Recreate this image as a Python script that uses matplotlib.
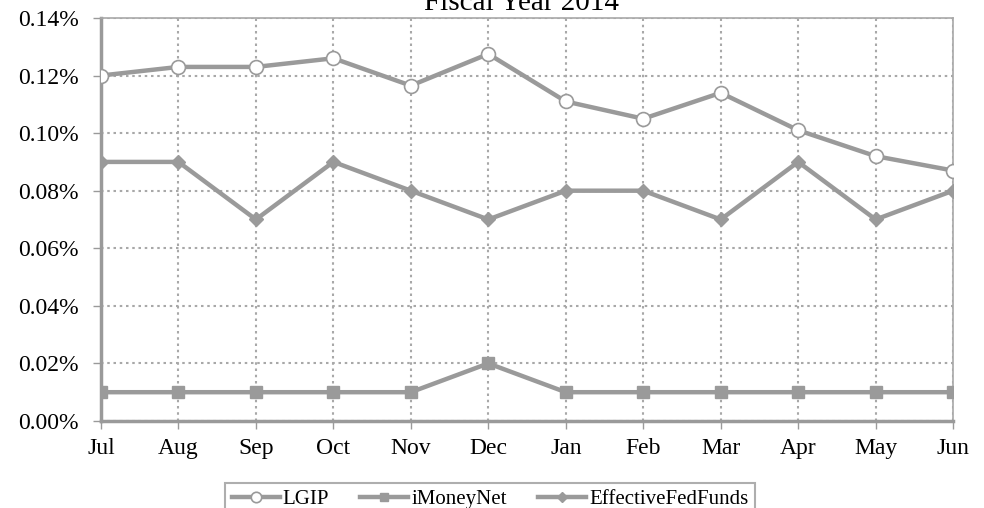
import matplotlib
matplotlib.use("Agg")
import matplotlib.pyplot as plt
from matplotlib.ticker import FuncFormatter

months = ["Jul", "Aug", "Sep", "Oct", "Nov", "Dec", "Jan", "Feb", "Mar", "Apr", "May", "Jun"]
lgip = [0.120, 0.123, 0.123, 0.126, 0.1165, 0.1275, 0.111, 0.105, 0.114, 0.101, 0.092, 0.087]
imoneynet = [0.01, 0.01, 0.01, 0.01, 0.01, 0.02, 0.01, 0.01, 0.01, 0.01, 0.01, 0.01]
fedfunds = [0.09, 0.09, 0.07, 0.09, 0.08, 0.07, 0.08, 0.08, 0.07, 0.09, 0.07, 0.08]

plt.rcParams['font.family'] = ['Liberation Serif', 'DejaVu Serif']
gray = '#9a9a9a'

fig = plt.figure(figsize=(9.84, 5.08), dpi=100)
ax = fig.add_axes([0.1026, 0.1713, 0.866, 0.7933])
x = list(range(len(months)))

ax.plot(x, lgip, color=gray, lw=3.2, marker='o', ms=10, mfc='white', mec=gray, mew=1.2, label='LGIP', zorder=5)
ax.plot(x, imoneynet, color=gray, lw=3.2, marker='s', ms=8, mfc=gray, mec=gray, label='iMoneyNet', zorder=4)
ax.plot(x, fedfunds, color=gray, lw=3.2, marker='D', ms=7, mfc=gray, mec=gray, label='EffectiveFedFunds', zorder=4)

ax.set_xlim(0, 11)
ax.set_ylim(0, 0.14)
ax.set_yticks([0, 0.02, 0.04, 0.06, 0.08, 0.10, 0.12, 0.14])
ax.yaxis.set_major_formatter(FuncFormatter(lambda v, p: f"{v:.2f}%"))
ax.set_xticks(x)
ax.set_xticklabels(months)
ax.grid(True, color='#a8a8a8', linestyle=(0, (1.2, 1.8)), lw=1.5)
ax.set_axisbelow(True)
for s in ['top', 'right']:
    ax.spines[s].set_color('#a8a8a8')
    ax.spines[s].set_linewidth(1.2)
for s in ['left', 'bottom']:
    ax.spines[s].set_color(gray)
    ax.spines[s].set_linewidth(2.5)
ax.tick_params(axis='both', labelsize=17, colors='black')
ax.tick_params(axis='x', length=6, width=1, color=gray, pad=6)
ax.tick_params(axis='y', length=6, width=1, color=gray, direction='out', pad=10)

fig.text(0.53, 0.981, "Fiscal Year 2014", ha='center', va='baseline', fontsize=21)

leg = fig.legend(loc='upper center', bbox_to_anchor=(0.498, 0.049), ncol=3, fontsize=15,
                 frameon=True, fancybox=False, edgecolor=gray, handlelength=2.3,
                 columnspacing=1.5, handletextpad=0.15, borderpad=0.3, borderaxespad=0,
                 markerscale=0.75)
leg.get_frame().set_linewidth(1.5)

fig.savefig("out.png", dpi=100)
